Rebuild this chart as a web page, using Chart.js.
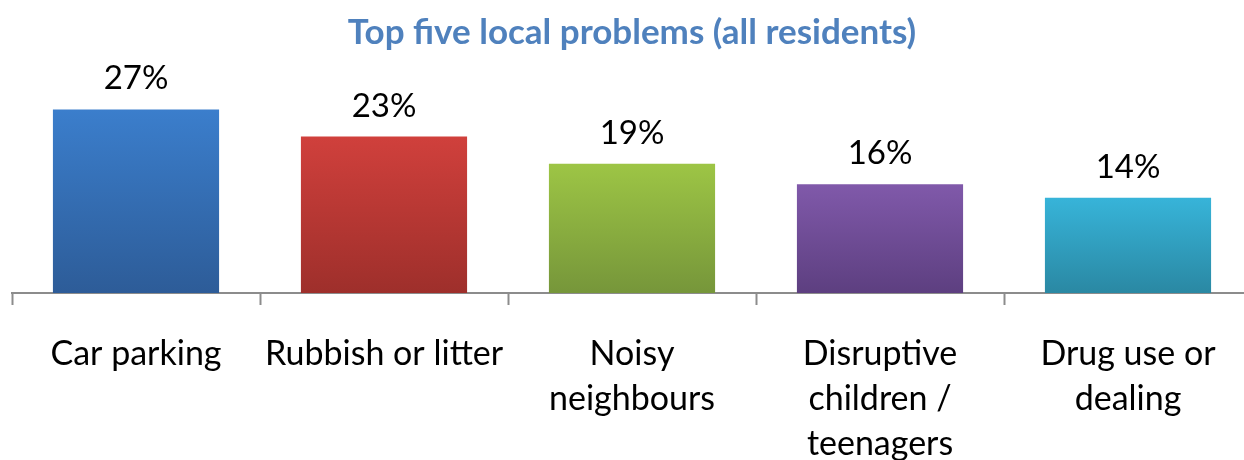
<!DOCTYPE html>
<html>
<head>
<meta charset="utf-8">
<script src="https://cdn.jsdelivr.net/npm/chart.js@4.4.1/dist/chart.umd.min.js"></script>
<style>
  html, body { margin:0; padding:0; background:#fff; overflow:hidden; }
  #wrap { width:1264px; height:460px; position:relative; }
</style>
</head>
<body>
<div id="wrap"><canvas id="c"></canvas></div>
<script>
const categories = [
  ["Car parking"],
  ["Rubbish or litter"],
  ["Noisy", "neighbours"],
  ["Disruptive", "children /", "teenagers"],
  ["Drug use or", "dealing"]
];
const values = [27, 23, 19, 16, 14];
const topColors = ["#3B7ECC", "#D0403C", "#9DC545", "#8059AA", "#37B4D9"];
const bottomColors = ["#2D5C98", "#9E2F2B", "#76963A", "#5D3F80", "#2A88A3"];
const titleText = "Top five local problems (all residents)";
const FONT = "Lato, 'Open Sans', sans-serif";

const valueLabels = {
  id: 'valueLabels',
  afterDatasetsDraw(chart) {
    const ctx = chart.ctx;
    const meta = chart.getDatasetMeta(0);
    ctx.save();
    ctx.font = "33px " + FONT;
    ctx.fillStyle = "#000";
    ctx.textAlign = "center";
    ctx.textBaseline = "alphabetic";
    meta.data.forEach((bar, i) => {
      ctx.fillText(values[i] + "%", bar.x, bar.y - 20);
    });
    ctx.restore();
  }
};

new Chart(document.getElementById('c'), {
  type: 'bar',
  data: {
    labels: categories,
    datasets: [{
      data: values,
      backgroundColor(ctx) {
        const chart = ctx.chart;
        const i = ctx.dataIndex;
        if (!chart.chartArea || !chart.scales.y) return topColors[i];
        const y = chart.scales.y;
        const top = y.getPixelForValue(values[i]);
        const bot = y.getPixelForValue(0);
        const g = chart.ctx.createLinearGradient(0, top, 0, bot);
        g.addColorStop(0, topColors[i]);
        g.addColorStop(1, bottomColors[i]);
        return g;
      },
      borderWidth: 0,
      categoryPercentage: 0.67,
      barPercentage: 1.0
    }]
  },
  options: {
    responsive: true,
    maintainAspectRatio: false,
    animation: false,
    devicePixelRatio: 1,
    layout: { padding: { left: 12, right: 12, top: 0, bottom: 0 } },
    plugins: {
      legend: { display: false },
      tooltip: { enabled: false },
      title: {
        display: true,
        text: titleText,
        color: "#4F81BD",
        font: { family: FONT, size: 35, weight: 'bold' },
        padding: { top: 12, bottom: 35 }
      }
    },
    scales: {
      x: {
        offset: true,
        grid: {
          display: true,
          drawOnChartArea: false,
          drawTicks: true,
          tickLength: 12,
          tickColor: "#8C8C8C",
          tickWidth: 2,
          offset: true
        },
        border: { display: true, color: "#8C8C8C", width: 2 },
        ticks: {
          color: "#000",
          font: { family: FONT, size: 34, lineHeight: 1.33 },
          padding: 26,
          maxRotation: 0,
          autoSkip: false
        },
        afterFit(scale) { scale.height = 167; }
      },
      y: {
        display: false,
        min: 0,
        max: 30
      }
    }
  },
  plugins: [valueLabels]
});
</script>
</body>
</html>
